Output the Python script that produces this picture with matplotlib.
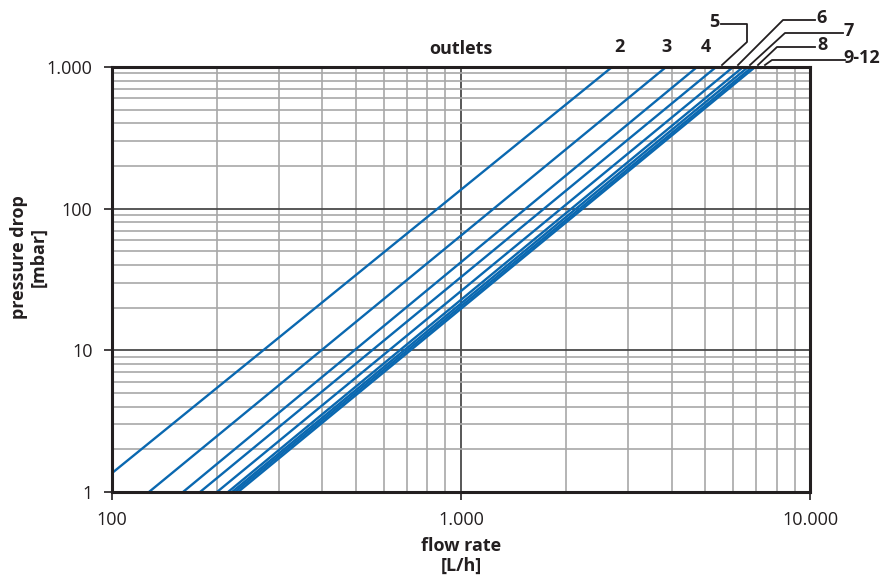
import matplotlib
matplotlib.use("Agg")
import matplotlib.pyplot as plt
from matplotlib.ticker import FixedLocator, FixedFormatter, LogLocator, NullFormatter
from matplotlib.lines import Line2D

plt.rcParams['font.family'] = ['Open Sans', 'DejaVu Sans']

# ---- data (flow [L/h], pressure drop [mbar]) ----
outlet_labels = ["2", "3", "4", "5", "6", "7", "8", "9", "12"]
flow_start = [100, 127.6, 159.7, 178.7, 199.8, 214.9, 220.6, 225.0, 229.6]
dp_start = [1.36, 1, 1, 1, 1, 1, 1, 1, 1]
flow_end = [2703, 3859, 4734, 5366, 6003, 6412, 6627, 6806, 6942]
dp_end = [1000, 1000, 1000, 1000, 1000, 1000, 1000, 1000, 1000]

x_ticks = [100, 1000, 10000]
x_tick_labels = ["100", "1.000", "10.000"]
y_ticks = [1, 10, 100, 1000]
y_tick_labels = ["1", "10", "100", "1.000"]

W, H = 885, 580
fig = plt.figure(figsize=(W / 100, H / 100), dpi=100)
ax_w = (810.5 - 112) / W
ax_h = (492 - 67) / H
ax = fig.add_axes([112 / W, 1 - 492 / H, ax_w, ax_h])

line_color = "#0a68b0"
for x0, y0, x1, y1 in zip(flow_start, dp_start, flow_end, dp_end):
    ax.plot([x0, x1], [y0, y1], color=line_color, lw=1.7, solid_capstyle="butt", zorder=3)

ax.set_xscale("log")
ax.set_yscale("log")
ax.set_xlim(100, 10000)
ax.set_ylim(1, 1000)

ax.xaxis.set_major_locator(FixedLocator(x_ticks))
ax.xaxis.set_major_formatter(FixedFormatter(x_tick_labels))
ax.yaxis.set_major_locator(FixedLocator(y_ticks))
ax.yaxis.set_major_formatter(FixedFormatter(y_tick_labels))
ax.xaxis.set_minor_locator(LogLocator(base=10, subs=range(2, 10)))
ax.yaxis.set_minor_locator(LogLocator(base=10, subs=range(2, 10)))
ax.xaxis.set_minor_formatter(NullFormatter())
ax.yaxis.set_minor_formatter(NullFormatter())

ax.grid(which="minor", color="#a8a8a8", lw=1.2, zorder=1)
ax.grid(which="major", color="#4a4a4a", lw=1.3, zorder=2)
ax.set_axisbelow(True)

for s in ax.spines.values():
    s.set_color("#231f20")
    s.set_linewidth(2.2)
    s.set_zorder(4)

ax.tick_params(which="major", direction="out", length=6, width=1.2, color="#231f20",
               labelsize=13, labelcolor="#231f20", pad=8)
ax.tick_params(which="minor", length=0)

ax.set_xlabel("flow rate\n[L/h]", fontsize=13, fontweight="bold", color="#231f20",
              linespacing=1.1, va="center", ha="center")
ax.xaxis.set_label_coords(0.5, -(556 - 492) / (ax_h * H))
ax.set_ylabel("pressure drop\n[mbar]", fontsize=13, fontweight="bold", color="#231f20",
              linespacing=1.1, va="center", ha="center")
ax.yaxis.set_label_coords((29 - 112) / (ax_w * W), (492 - 257) / (ax_h * H))

def fx(px):
    return px / W

def fy(py):
    return 1 - py / H

tkw = dict(fontsize=13, fontweight="bold", color="#231f20", ha="center", va="center")
fig.text(fx(461), fy(49), "outlets", **tkw)
fig.text(fx(619), fy(47), "2", **tkw)
fig.text(fx(667), fy(47), "3", **tkw)
fig.text(fx(706), fy(47), "4", **tkw)
fig.text(fx(714), fy(22), "5", **tkw)
fig.text(fx(822), fy(18), "6", **tkw)
fig.text(fx(849), fy(31), "7", **tkw)
fig.text(fx(822), fy(45), "8", **tkw)
fig.text(fx(862), fy(58), "9-12", **tkw)

leaders = [
    [(721, 24), (747, 24), (747, 42), (722, 65)],
    [(815, 20), (783, 20), (738, 65)],
    [(843, 33), (785, 33), (750, 65)],
    [(815, 47), (777, 47), (758, 65)],
    [(845, 60), (772, 60), (765, 65)],
]
for pts in leaders:
    xs = [fx(p[0]) for p in pts]
    ys = [fy(p[1]) for p in pts]
    fig.add_artist(Line2D(xs, ys, color="#231f20", lw=1.3, transform=fig.transFigure))

fig.savefig("out.png", dpi=100)
